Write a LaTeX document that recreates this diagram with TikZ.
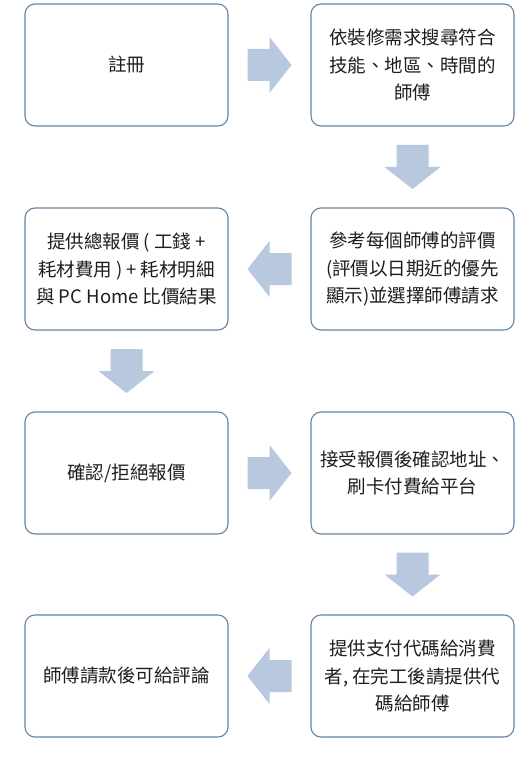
\documentclass[tikz,border=0pt]{standalone}
\usepackage{fontspec}
\newfontfamily\cjkfont{Noto Sans CJK TC}
\usetikzlibrary{calc}
\definecolor{boxline}{HTML}{6585A3}
\definecolor{arrowfill}{HTML}{B8C8DF}
\definecolor{txt}{HTML}{1E1E1E}
\tikzset{
  stepbox/.style={draw=boxline, line width=1.1pt, rounded corners=10pt,
    minimum width=203pt, minimum height=122pt, inner sep=0pt,
    align=center, text=txt, font=\cjkfont\fontsize{18.5}{27.5}\selectfont},
  pics/arrowright/.style={code={
    \fill[arrowfill] (-22,-16) -- (0,-16) -- (0,-28) -- (22,0) -- (0,28) -- (0,16) -- (-22,16) -- cycle;}},
  pics/arrowleft/.style={code={
    \fill[arrowfill] (22,-16) -- (0,-16) -- (0,-28) -- (-22,0) -- (0,28) -- (0,16) -- (22,16) -- cycle;}},
  pics/arrowdown/.style={code={
    \fill[arrowfill] (-16,-22) -- (-16,0) -- (-28,0) -- (0,22) -- (28,0) -- (16,0) -- (16,-22) -- cycle;}},
}
\begin{document}
\begin{tikzpicture}[x=1pt, y=-1pt]
  \useasboundingbox[fill=white] (0,0) rectangle (530,759);

  % flow steps
  \node[stepbox] (register) at (126.5,65) {註冊};
  \node[stepbox] (search)   at (412.5,65) {依裝修需求搜尋符合\\技能、地區、時間的\\師傅};
  \node[stepbox] (review)   at (412.5,269) {參考每個師傅的評價\\(評價以日期近的優先\\顯示)並選擇師傅請求};
  \node[stepbox] (quote)    at (126.5,269) {提供總報價 ( 工錢 +\\耗材費用 ) + 耗材明細\\與 PC Home 比價結果};
  \node[stepbox] (decide)   at (126.5,473) {確認/拒絕報價};
  \node[stepbox] (pay)      at (412.5,473) {接受報價後確認地址、\\刷卡付費給平台};
  \node[stepbox] (code)     at (412.5,676) {提供支付代碼給消費\\者, 在完工後請提供代\\碼給師傅};
  \node[stepbox] (rate)     at (126.5,676) {師傅請款後可給評論};

  % block arrows between consecutive steps
  \pic at ($(register.east)!0.5!(search.west)$) {arrowright};
  \pic at ($(search.south)!0.5!(review.north)$) {arrowdown};
  \pic at ($(review.west)!0.5!(quote.east)$) {arrowleft};
  \pic at ($(quote.south)!0.5!(decide.north)$) {arrowdown};
  \pic at ($(decide.east)!0.5!(pay.west)$) {arrowright};
  \pic at ($(pay.south)!0.5!(code.north)$) {arrowdown};
  \pic at ($(code.west)!0.5!(rate.east)$) {arrowleft};
\end{tikzpicture}
\end{document}
